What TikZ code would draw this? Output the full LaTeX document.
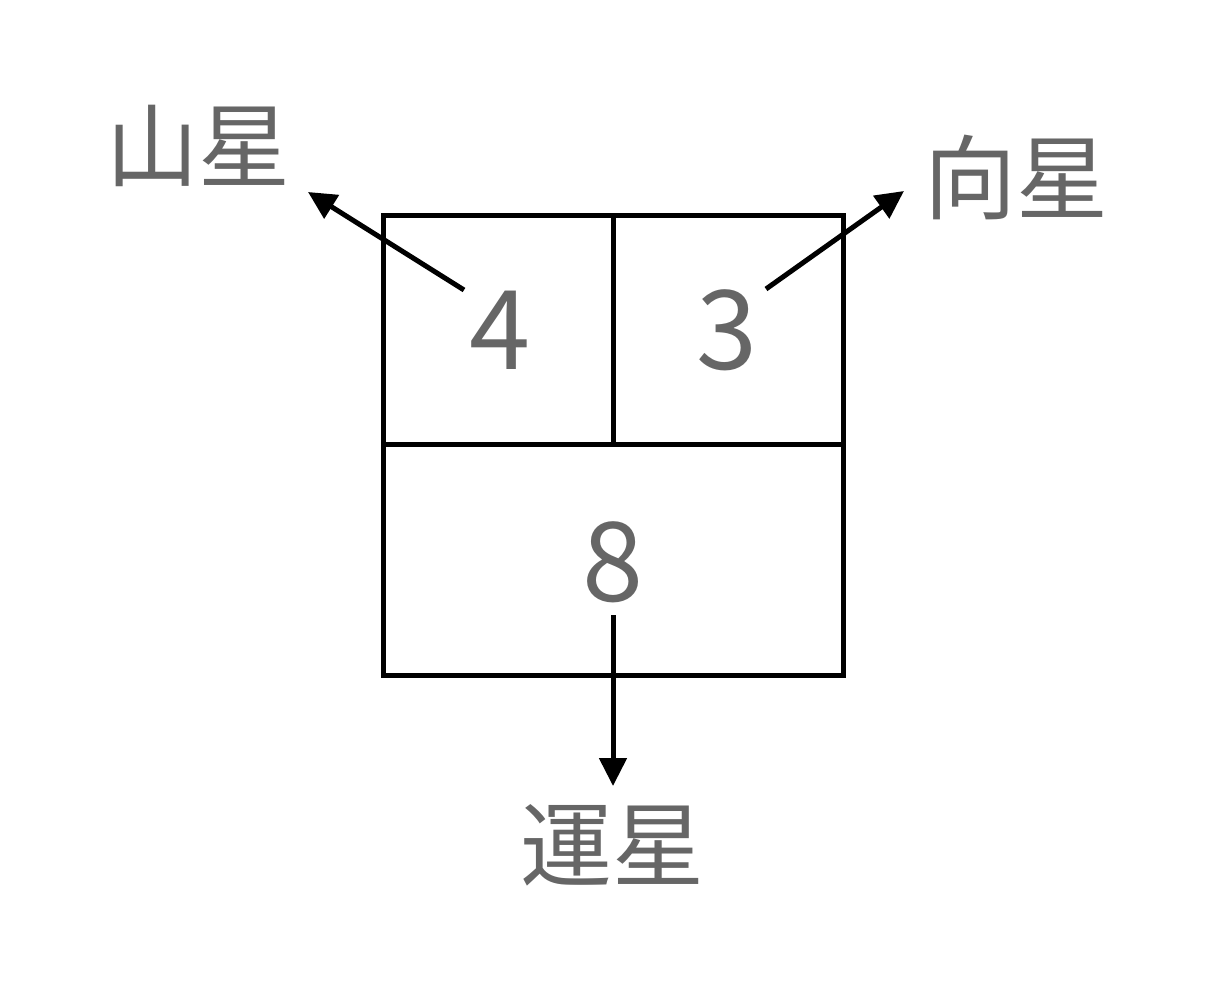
\documentclass[tikz,border=0pt]{standalone}
\usepackage{fontspec}
\usetikzlibrary{arrows.meta}
\newfontfamily\cjk{Noto Sans CJK JP}
\definecolor{stargray}{HTML}{666666}

\tikzset{every picture/.style={line width=5pt}}

\begin{document}
\begin{tikzpicture}[x=1pt, y=-1pt,
                    line cap=butt, line join=miter,
                    grid/.style={black},
                    digit/.style={text=stargray, inner sep=0pt, font=\cjk\fontsize{110}{120}\selectfont},
                    star/.style={text=stargray, inner sep=0pt, font=\cjk\fontsize{92}{100}\selectfont},
                    vector/.style={black, -{Triangle[length=28pt,width=27pt]}}]
  \useasboundingbox (0,0) rectangle (1216,982);

  % chart
  \draw[grid] (383,215) rectangle (843,675);
  \draw[grid] (383,444) -- (843,444);
  \draw[grid] (613,215) -- (613,444);

  % numbers
  \node[digit] (cellMountain) at (500,330) {4};
  \node[digit] (cellFacing) at (727,330) {3};
  \node[digit] (cellBase) at (613,562) {8};

  % star names
  \node[star] (mountainStar) at (198,146) {山星};
  \node[star] (facingStar) at (1016,177) {向星};
  \node[star] (baseStar) at (612,845) {運星};

  % arrow ends
  \coordinate (mountainFrom) at (464,290);
  \coordinate (mountainTo) at (308,192);
  \coordinate (facingFrom) at (766,289);
  \coordinate (facingTo) at (904,191);
  \coordinate (baseFrom) at (613,615);
  \coordinate (baseTo) at (613,786);

  % arrows
  \draw[vector] (mountainFrom) -- (mountainTo);
  \draw[vector] (facingFrom) -- (facingTo);
  \draw[vector] (baseFrom) -- (baseTo);

\end{tikzpicture}
\end{document}
